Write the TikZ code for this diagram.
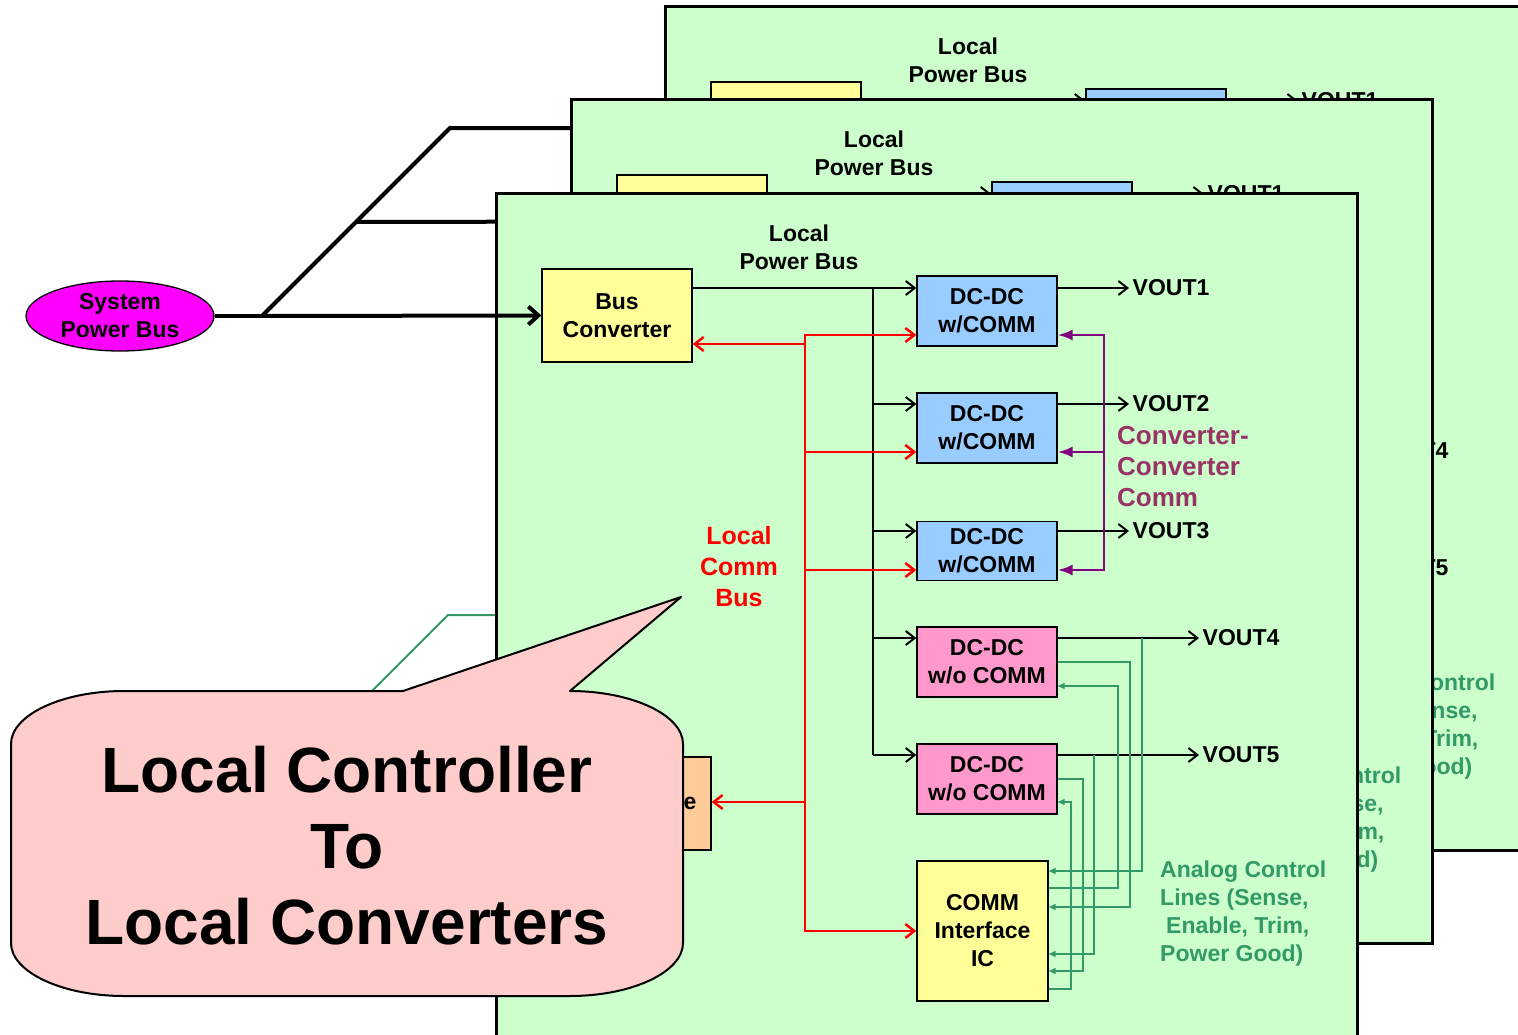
\documentclass[tikz,border=0pt]{standalone}
\usepackage{fontspec}
\setmainfont{Liberation Sans}
\usetikzlibrary{arrows.meta,shapes.geometric}
\pgfdeclarelayer{bg}
\pgfsetlayers{bg,main}
\definecolor{boardg}{HTML}{CCFFCC}
\definecolor{yellowc}{HTML}{FFFF99}
\definecolor{bluec}{HTML}{99CCFF}
\definecolor{pinkc}{HTML}{FF99CC}
\definecolor{orangec}{HTML}{FFCC99}
\definecolor{magentac}{HTML}{FF00FF}
\definecolor{calloutc}{HTML}{FFCCCC}
\definecolor{anag}{HTML}{339966}
\definecolor{purplec}{HTML}{800080}
\definecolor{plumc}{HTML}{993366}
\newif\iffullboard
\tikzset{
 lbl/.style={font=\fontsize{23}{28}\selectfont\bfseries, align=center, inner sep=0pt},
 boxb/.style={draw=black, line width=1.3pt, inner sep=0pt, lbl},
 ybox/.style={boxb, fill=yellowc},
 bbox/.style={boxb, fill=bluec, minimum width=140pt, minimum height=70pt},
 pbox/.style={boxb, fill=pinkc, minimum width=140pt, minimum height=70pt},
 obox/.style={boxb, fill=orangec, minimum width=130pt, minimum height=93pt},
 boardst/.style={fill=boardg, draw=black, line width=3pt},
 pl/.style={line width=2pt, draw=black},
 parr/.style={pl, -{Straight Barb[length=9pt,width=14pt]}},
 rl/.style={line width=2.5pt, draw=red},
 rarr/.style={rl, -{Straight Barb[length=9pt,width=14pt]}},
 rarrb/.style={rl, {Straight Barb[length=9pt,width=14pt]}-{Straight Barb[length=9pt,width=14pt]}},
 pu/.style={line width=2.5pt, draw=purplec},
 puarr/.style={pu, -{Latex[length=15pt,width=11pt]}},
 puarrb/.style={pu, {Latex[length=15pt,width=11pt]}-{Latex[length=15pt,width=11pt]}},
 gline/.style={line width=1.5pt, draw=anag, -{Triangle[length=7pt,width=6pt]}},
 sysl/.style={line width=4pt, draw=black},
 sysarr/.style={sysl, -{Straight Barb[length=10pt,width=18pt]}},
 gsys/.style={line width=2pt, draw=anag},
 callst/.style={fill=calloutc, draw=black, line width=2pt, line join=round},
 vout/.style={lbl, anchor=west, inner sep=3.5pt}
}
\newcommand{\pcboard}[3]{%
\begin{scope}[shift={(#2,#3)}]
\draw[boardst] (496,194) rectangle (1357,1037);
\node[lbl] (#1lpb) at (799,247) {Local\\Power Bus};
\iffullboard
\node[lbl, text=red, font=\fontsize{25}{31}\selectfont\bfseries] (#1lcb) at (739,567) {Local\\Comm\\Bus};
\node[lbl, text=plumc, font=\fontsize{26}{31}\selectfont\bfseries, align=left, anchor=west] (#1ccc) at (1117,467) {Converter-\\Converter\\Comm};
\fi
\node[lbl, text=anag, align=left, anchor=west] (#1acl) at (1160,914) {Analog Control\\Lines (Sense,\\\hspace*{6pt}Enable, Trim,\\Power Good)};
\node[ybox, minimum width=150pt, minimum height=93pt] (#1bc) at (617,315.5) {\iffullboard Bus\\Converter\fi};
\node[bbox] (#1d1) at (987,311) {\iffullboard DC-DC\\w/COMM\fi};
\node[bbox] (#1d2) at (987,428) {\iffullboard DC-DC\\w/COMM\fi};
\node[bbox, minimum height=59pt] (#1d3) at (987,551) {\iffullboard DC-DC\\w/COMM\fi};
\node[pbox] (#1d4) at (987,662) {\iffullboard DC-DC\\w/o COMM\fi};
\node[pbox] (#1d5) at (987,779) {\iffullboard DC-DC\\w/o COMM\fi};
\node[ybox, minimum width=131pt, minimum height=140pt] (#1ic) at (982.5,931) {\iffullboard COMM\\Interface\\IC\fi};
\node[obox] (#1org) at (646,803.5) {};
\iffullboard\node[lbl] (#1orgt) at (690,803) {e};\fi
\node[vout] (#1v1) at (1129,288) {VOUT1};
\node[vout] (#1v2) at (1129,404) {\iffullboard VOUT2\fi};
\node[vout] (#1v3) at (1129,531) {\iffullboard VOUT3\fi};
\node[vout] (#1v4) at (1199,638) {VOUT4};
\node[vout] (#1v5) at (1199,755) {VOUT5};
% power distribution
\coordinate (#1t1) at (873,288);
\coordinate (#1t2) at (873,404);
\coordinate (#1t3) at (873,531);
\coordinate (#1t4) at (873,638);
\coordinate (#1t5) at (873,755);
\draw[parr] (#1bc.east |- 0,288) -- (#1d1.west |- 0,288);
\draw[pl] (#1t1) -- (#1t5);
\draw[parr] (#1t2) -- (#1d2.west |- 0,404);
\draw[parr] (#1t3) -- (#1d3.west |- 0,531);
\draw[parr] (#1t4) -- (#1d4.west |- 0,638);
\draw[parr] (#1t5) -- (#1d5.west |- 0,755);
\draw[parr] (#1d1.east |- 0,288) -- (#1v1.west);
\draw[parr] (#1d2.east |- 0,404) -- (#1v2.west);
\draw[parr] (#1d3.east |- 0,531) -- (#1v3.west);
\draw[parr] (#1d4.east |- 0,638) -- (#1v4.west);
\draw[parr] (#1d5.east |- 0,755) -- (#1v5.west);
% local comm bus
\coordinate (#1r1) at (805,335);
\coordinate (#1r2) at (805,931);
\draw[rarrb] (#1d1.west |- 0,335) -- (#1r1) -- (#1r2) -- (#1ic.west |- 0,931);
\draw[rarr] (805,344) -- (#1bc.east |- 0,344);
\draw[rarr] (805,452) -- (#1d2.west |- 0,452);
\draw[rarr] (805,570) -- (#1d3.west |- 0,570);
\draw[rarr] (805,802) -- (#1org.east |- 0,802);
% converter-converter comm
\coordinate (#1p1) at (1104,335);
\coordinate (#1p2) at (1104,570);
\draw[puarrb] (#1d1.east |- 0,335) -- (#1p1) -- (#1p2) -- (#1d3.east |- 0,570);
\draw[puarr] (1104,452) -- (#1d2.east |- 0,452);
% analog control lines
\draw[gline] (1142,638) -- (1142,871) -- (#1ic.east |- 0,871);
\draw[gline] (#1d4.east |- 0,662) -- (1130,662) -- (1130,907) -- (#1ic.east |- 0,907);
\draw[gline] (#1ic.east |- 0,888) -- (1118,888) -- (1118,686) -- (#1d4.east |- 0,686);
\draw[gline] (1094,755) -- (1094,954) -- (#1ic.east |- 0,954);
\draw[gline] (#1d5.east |- 0,779) -- (1083,779) -- (1083,971) -- (#1ic.east |- 0,971);
\draw[gline] (#1ic.east |- 0,989) -- (1071,989) -- (1071,802) -- (#1d5.east |- 0,802);
\end{scope}}
\begin{document}
\begin{tikzpicture}[x=1pt,y=-1pt]
\useasboundingbox (0,0) rectangle (1518,1035);
\clip (0,0) rectangle (1518,1035);
\coordinate (sj1) at (262,316);
\coordinate (sj2) at (357,222);
\coordinate (sj3) at (450,128);
\coordinate (gj1) at (261,802);
\coordinate (gj3) at (448,615);
\node[ellipse, draw=black, fill=magentac, line width=1.3pt, lbl, minimum width=188pt, minimum height=70pt] (spb) at (120,316) {System\\Power Bus};
\fullboardfalse
\pcboard{b}{169}{-187}
\pcboard{m}{75}{-94}
\fullboardtrue
\pcboard{f}{0}{0}
\begin{pgfonlayer}{bg}
\fill[white] (0,0) rectangle (1518,1035);
\draw[sysarr] (sj1) -- (sj3) -- (bbc.west);
\draw[sysarr] (sj2) -- (mbc.west);
\draw[gsys] (gj1) -- (gj3) -- (borg.west);
\end{pgfonlayer}
\draw[sysl] (spb.east) -- (sj1);
\draw[sysarr] (sj1) -- (fbc.west);
\draw[callst] (124,691) -- (403,691) -- (681,597) -- (570,691)
  .. controls (632,691) and (683,715) .. (683,744) -- (683,943)
  .. controls (683,972) and (632,996) .. (570,996) -- (124,996)
  .. controls (62,996) and (11,972) .. (11,943) -- (11,744)
  .. controls (11,715) and (62,691) .. (124,691) -- cycle;
\node[font=\fontsize{64}{76}\selectfont\bfseries, align=center, inner sep=0pt] (co) at (347,846) {Local Controller\\To\\Local Converters};
\end{tikzpicture}
\end{document}
